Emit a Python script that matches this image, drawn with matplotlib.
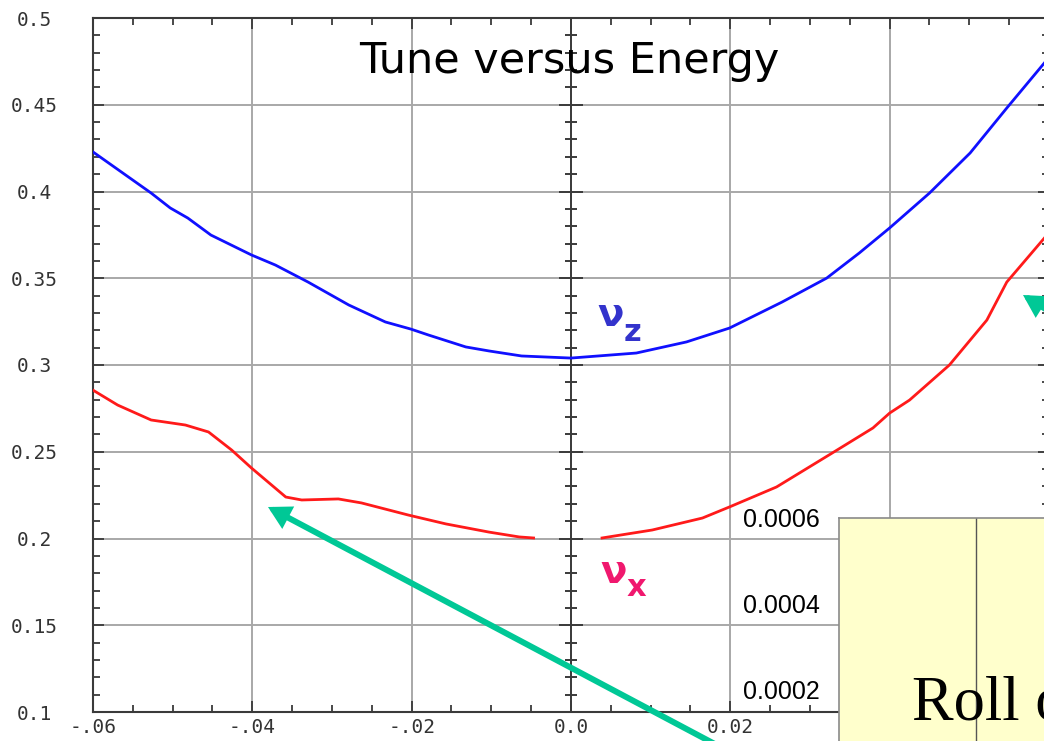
import numpy as np
import matplotlib
matplotlib.use("Agg")
import matplotlib.pyplot as plt
from matplotlib.patches import FancyArrowPatch, ArrowStyle

W, H = 1044, 741

# Vertical tune versus relative energy deviation
energy_z = [-0.0600, -0.0527, -0.0503, -0.0481, -0.0452, -0.0401, -0.0371, -0.0330,
            -0.0279, -0.0233, -0.0201, -0.0179, -0.0132, -0.0103, -0.0062, 0.0000,
            0.0082, 0.0145, 0.0199, 0.0265, 0.0321, 0.0362, 0.0400, 0.0450,
            0.0501, 0.0547, 0.0600]
tune_z = [0.4228, 0.3991, 0.3905, 0.3847, 0.3749, 0.3634, 0.3576, 0.3478,
          0.3346, 0.3248, 0.3207, 0.3173, 0.3104, 0.3081, 0.3052, 0.3040,
          0.3069, 0.3133, 0.3213, 0.3363, 0.3501, 0.3646, 0.3790, 0.3991,
          0.4222, 0.4481, 0.4773]

# Horizontal tune, negative energy branch
energy_x_low = [-0.0600, -0.0569, -0.0527, -0.0484, -0.0455, -0.0426, -0.0401, -0.0358,
                -0.0338, -0.0292, -0.0263, -0.0204, -0.0157, -0.0103, -0.0065, -0.0047]
tune_x_low = [0.2855, 0.2769, 0.2683, 0.2654, 0.2614, 0.2510, 0.2406, 0.2239,
              0.2222, 0.2228, 0.2205, 0.2135, 0.2084, 0.2037, 0.2009, 0.2003]

# Horizontal tune, positive energy branch
energy_x_high = [0.0039, 0.0102, 0.0165, 0.0199, 0.0258, 0.0328, 0.0379, 0.0400,
                 0.0425, 0.0475, 0.0522, 0.0547, 0.0600]
tune_x_high = [0.2003, 0.2049, 0.2118, 0.2182, 0.2297, 0.2493, 0.2637, 0.2723,
               0.2798, 0.3000, 0.3259, 0.3478, 0.3763]

x_ticks = [-0.06, -0.04, -0.02, 0.0, 0.02, 0.04, 0.06]
x_tick_labels = ["-.06", "-.04", "-.02", "0.0", "0.02", "", ""]
y_ticks = [0.1, 0.15, 0.2, 0.25, 0.3, 0.35, 0.4, 0.45, 0.5]
y_tick_labels = ["0.1", "0.15", "0.2", "0.25", "0.3", "0.35", "0.4", "0.45", "0.5"]

inset_ticks = [0.0002, 0.0004, 0.0006]
inset_tick_labels = ["0.0002", "0.0004", "0.0006"]


def fx(px):
    return px / W


def fy(py):
    return 1 - py / H


fig = plt.figure(figsize=(W / 100, H / 100), dpi=100)
fig.patch.set_facecolor("white")

# ---- main tune plot ----
ax = fig.add_axes([fx(93), fy(712), (1049 - 93) / W, (712 - 18) / H])
ax.set_xlim(-0.06, 0.06)
ax.set_ylim(0.1, 0.5)

ax.set_xticks(x_ticks)
ax.set_xticklabels(x_tick_labels)
ax.set_yticks(y_ticks)
ax.set_yticklabels(y_tick_labels)
ax.set_xticks(np.arange(-0.06, 0.0601, 0.005), minor=True)
ax.set_yticks(np.arange(0.1, 0.5001, 0.01), minor=True)

axis_col = "#3a3a3a"
ax.tick_params(which="both", direction="in", top=True, right=True,
               color=axis_col, width=1.3)
ax.tick_params(which="major", length=8)
ax.tick_params(which="minor", length=5)
ax.tick_params(axis="x", pad=4, labelsize=14, labelcolor="#333333")
ax.tick_params(axis="y", pad=42, labelsize=14, labelcolor="#333333")
for lbl in ax.get_xticklabels() + ax.get_yticklabels():
    lbl.set_fontfamily("DejaVu Sans Mono")
for lbl in ax.get_yticklabels():
    lbl.set_horizontalalignment("center")

for s in ax.spines.values():
    s.set_color(axis_col)
    s.set_linewidth(1.5)

ax.grid(True, which="major", color="#a8a8a8", linewidth=1.4)
ax.set_axisbelow(True)

# central axis with cross ticks
ax.axvline(0, color=axis_col, linewidth=1.4, zorder=1.5)
ymin_locs = [v for v in ax.yaxis.get_minorticklocs() if 0.1 < v < 0.5]
ymaj_locs = [v for v in ax.yaxis.get_majorticklocs() if 0.1 < v < 0.5]
ax.plot(np.zeros(len(ymin_locs)), ymin_locs, ls="none", marker="_",
        ms=9, mew=1.4, color=axis_col, zorder=1.6)
ax.plot(np.zeros(len(ymaj_locs)), ymaj_locs, ls="none", marker="_",
        ms=17, mew=1.4, color=axis_col, zorder=1.6)

ax.plot(energy_z, tune_z, color="#1010ff", linewidth=2.0, zorder=3,
        solid_joinstyle="round")
ax.plot(energy_x_low, tune_x_low, color="#ff1a1a", linewidth=2.0, zorder=3,
        solid_joinstyle="round")
ax.plot(energy_x_high, tune_x_high, color="#ff1a1a", linewidth=2.0, zorder=3,
        solid_joinstyle="round")

# ---- tune labels ----
fig.text(fx(597), fy(326), "ν", color="#3333cc", fontsize=28, fontweight="bold",
         fontfamily="DejaVu Sans", va="baseline", ha="left")
fig.text(fx(624), fy(341), "z", color="#3333cc", fontsize=22, fontweight="bold",
         fontfamily="DejaVu Sans", va="baseline", ha="left")
fig.text(fx(600), fy(583), "ν", color="#f0186e", fontsize=28, fontweight="bold",
         fontfamily="DejaVu Sans", va="baseline", ha="left")
fig.text(fx(627), fy(596), "x", color="#f0186e", fontsize=22, fontweight="bold",
         fontfamily="DejaVu Sans", va="baseline", ha="left")

# ---- title ----
fig.text(fx(569), fy(73), "Tune versus Energy", fontsize=31, color="black",
         fontfamily="DejaVu Sans", ha="center", va="baseline")

# ---- pointer arrows ----
arrow_col = "#00c896"
style = ArrowStyle("-|>", head_length=0.9, head_width=0.5)
for tail, tip in [((760, 768), (268, 507)), ((1100, 343), (1023, 295))]:
    arr = FancyArrowPatch(posA=(fx(tail[0]), fy(tail[1])), posB=(fx(tip[0]), fy(tip[1])),
                          transform=fig.transFigure, arrowstyle=style,
                          mutation_scale=11, color=arrow_col, linewidth=4.3,
                          shrinkA=0, shrinkB=0, joinstyle="miter", zorder=4)
    fig.add_artist(arr)

# ---- roll-off inset panel ----
ins = fig.add_axes([fx(839), fy(776), (1113 - 839) / W, (776 - 518) / H], zorder=5)
ins.set_facecolor("#ffffcc")
ins.set_xlim(-1, 1)
ins.set_ylim(0, 0.0006)
ins.axvline(0, color="#555555", linewidth=1.0)
for s in ins.spines.values():
    s.set_color("#8a8a8a")
    s.set_linewidth(1.2)
ins.set_xticks([])
ins.set_yticks(inset_ticks)
ins.set_yticklabels(inset_tick_labels)
ins.tick_params(axis="y", length=0, pad=14, labelsize=18, labelcolor="black")
for lbl in ins.get_yticklabels():
    lbl.set_fontfamily("Liberation Sans")

fig.text(fx(912), fy(719), "Roll off", fontsize=45, fontfamily="Liberation Serif",
         color="black", ha="left", va="baseline", zorder=6)

fig.savefig("out.png", dpi=100)
